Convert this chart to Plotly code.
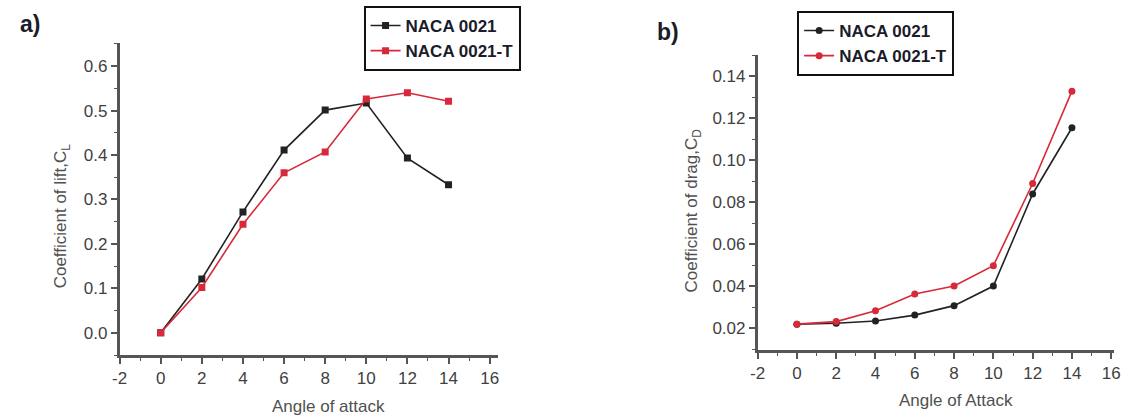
import plotly.graph_objects as go

W, H = 1134, 418

angles = [0, 2, 4, 6, 8, 10, 12, 14]
cl_naca0021 = [0.0, 0.121, 0.272, 0.411, 0.501, 0.517, 0.393, 0.333]
cl_naca0021t = [0.0, 0.102, 0.244, 0.360, 0.407, 0.526, 0.540, 0.521]
cd_naca0021 = [0.0220, 0.0224, 0.0235, 0.0263, 0.0308, 0.0401, 0.0839, 0.1154]
cd_naca0021t = [0.0220, 0.0232, 0.0284, 0.0363, 0.0401, 0.0498, 0.0889, 0.1328]
series_names = ["NACA 0021", "NACA 0021-T"]
x_ticks = [-2, 0, 2, 4, 6, 8, 10, 12, 14, 16]
cl_ticks = [0.0, 0.1, 0.2, 0.3, 0.4, 0.5, 0.6]
cd_ticks = [0.02, 0.04, 0.06, 0.08, 0.10, 0.12, 0.14]

BLACK = "#222222"
RED = "#d8283a"
AX = "#555555"
TXT = "#3f3f3f"
FONT = "Liberation Sans, Arial, sans-serif"

fig = go.Figure()

fig.add_trace(go.Scatter(x=angles, y=cl_naca0021, name=series_names[0], mode="lines+markers",
                         line=dict(color=BLACK, width=1.6), marker=dict(symbol="square", size=7, color=BLACK),
                         xaxis="x", yaxis="y", legend="legend"))
fig.add_trace(go.Scatter(x=angles, y=cl_naca0021t, name=series_names[1], mode="lines+markers",
                         line=dict(color=RED, width=1.6), marker=dict(symbol="square", size=7, color=RED),
                         xaxis="x", yaxis="y", legend="legend"))
fig.add_trace(go.Scatter(x=angles, y=cd_naca0021, name=series_names[0], mode="lines+markers",
                         line=dict(color=BLACK, width=1.6), marker=dict(symbol="circle", size=7, color=BLACK),
                         xaxis="x2", yaxis="y2", legend="legend2"))
fig.add_trace(go.Scatter(x=angles, y=cd_naca0021t, name=series_names[1], mode="lines+markers",
                         line=dict(color=RED, width=1.6), marker=dict(symbol="circle", size=7, color=RED),
                         xaxis="x2", yaxis="y2", legend="legend2"))

def xax(domain, anchor, rng):
    return dict(domain=domain, anchor=anchor, range=rng, tickmode="array", tickvals=x_ticks,
                ticktext=[str(t) for t in x_ticks], showline=True, linecolor=AX, linewidth=2.5,
                ticks="outside", ticklen=6, tickwidth=1.5, tickcolor=AX, showgrid=False, zeroline=False,
                tickfont=dict(family=FONT, size=17, color=TXT),
                minor=dict(ticks="outside", ticklen=3, tickwidth=1.2, tickcolor=AX, dtick=1, tick0=-2, showgrid=False))

def yax(domain, anchor, rng, vals, fmt, minor_dt):
    return dict(domain=domain, anchor=anchor, range=rng, tickmode="array", tickvals=vals,
                ticktext=[fmt.format(v) for v in vals], showline=True, linecolor=AX, linewidth=2.5,
                ticks="outside", ticklen=6, tickwidth=1.5, tickcolor=AX, showgrid=False, zeroline=False,
                tickfont=dict(family=FONT, size=17, color=TXT),
                minor=dict(ticks="outside", ticklen=3, tickwidth=1.2, tickcolor=AX, dtick=minor_dt, tick0=0, showgrid=False))

legend_style = dict(bgcolor="white", bordercolor="#111111", borderwidth=2,
                    font=dict(family=FONT, size=17, color="#1b1b2b", weight="bold"),
                    xanchor="left", yanchor="top", tracegroupgap=0, itemwidth=30)

fig.update_layout(
    width=W, height=H, margin=dict(l=0, r=0, t=0, b=0),
    paper_bgcolor="white", plot_bgcolor="white",
    xaxis=xax([113 / W, 496 / W], "y", [-2, 16.4]),
    yaxis=yax([1 - 355 / H, 1 - 43 / H], "x", [-0.05, 0.652], cl_ticks, "{:.1f}", 0.05),
    xaxis2=xax([759 / W, 1120 / W], "y2", [-2, 16.15]),
    yaxis2=yax([1 - 350 / H, 1 - 55 / H], "x2", [0.0097, 0.15], cd_ticks, "{:.2f}", 0.01),
    legend=dict(x=360 / W, y=1 - 6 / H, **legend_style),
    legend2=dict(x=799 / W, y=1 - 11 / H, **legend_style),
    showlegend=True,
)

ann_font = dict(family=FONT, size=17, color="#505050")
def ann(text, x, y, size_font, angle=0):
    return dict(text=text, x=x / W, y=1 - y / H, xref="paper", yref="paper", showarrow=False,
                xanchor="center", yanchor="middle", textangle=angle, font=size_font)

title_font = dict(family=FONT, size=23, color="#1b1b2b")
annotations = [
    ann("<b>a)</b>", 22, 24, title_font),
    ann("<b>b)</b>", 668, 32, title_font),
    ann("Coefficient of lift,C<sub>L</sub>", 55, 216, ann_font, -90),
    ann("Angle of attack", 324, 406, ann_font),
    ann("Coefficient of drag,C<sub>D</sub>", 694, 210, ann_font, -90),
    ann("Angle of Attack", 960, 400, ann_font),
]
fig.update_layout(annotations=annotations)

fig.write_html("out.html")
